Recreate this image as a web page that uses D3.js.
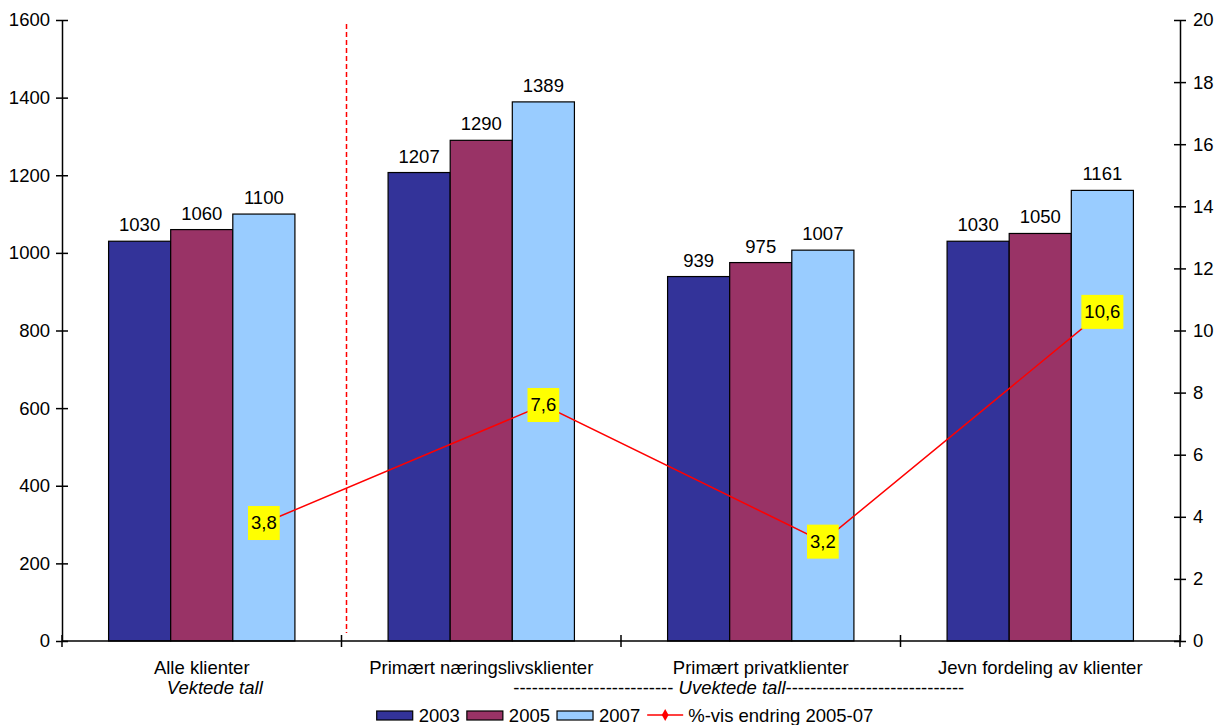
<!DOCTYPE html>
<html>
<head>
<meta charset="utf-8">
<script src="https://cdn.jsdelivr.net/npm/d3@7"></script>
<style>
  html, body { margin: 0; padding: 0; background: #fff; }
  svg { display: block; font-family: "Liberation Sans", Arial, sans-serif; }
</style>
</head>
<body>
<svg id="chart" width="1222" height="725"></svg>
<script>
const categories = ["Alle klienter", "Primært næringslivsklienter", "Primært privatklienter", "Jevn fordeling av klienter"];
const years = ["2003", "2005", "2007"];
const values2003 = [1030, 1207, 939, 1030];
const values2005 = [1060, 1290, 975, 1050];
const values2007 = [1100, 1389, 1007, 1161];
const pctChange = [3.8, 7.6, 3.2, 10.6];
const pctLabels = ["3,8", "7,6", "3,2", "10,6"];
const leftTicks = [0, 200, 400, 600, 800, 1000, 1200, 1400, 1600];
const rightTicks = [0, 2, 4, 6, 8, 10, 12, 14, 16, 18, 20];
const lineSeriesName = "%-vis endring 2005-07";
const weightedLabel = "Vektede tall";
const unweightedLabel = "Uvektede tall";
const colors = { "2003": "#333399", "2005": "#993366", "2007": "#99CCFF" };

const series = { "2003": values2003, "2005": values2005, "2007": values2007 };

const svg = d3.select("#chart");
const pL = 62, pR = 1180, pT = 20, pB = 641;
const FS = 18.5;

const x = d3.scaleBand().domain(categories).range([pL, pR]).paddingInner(0).paddingOuter(0);
const xs = d3.scaleBand().domain(years).range([0, x.bandwidth()]).paddingInner(0).paddingOuter(0.75);
const y = d3.scaleLinear().domain([0, 1600]).range([pB, pT]);
const y2 = d3.scaleLinear().domain([0, 20]).range([pB, pT]);

// Bars
const groups = svg.append("g").selectAll("g").data(categories).join("g")
  .attr("transform", d => `translate(${x(d)},0)`);
years.forEach(yr => {
  groups.append("rect")
    .attr("x", xs(yr))
    .attr("y", (d, i) => y(series[yr][i]))
    .attr("width", xs.bandwidth())
    .attr("height", (d, i) => y(0) - y(series[yr][i]))
    .attr("fill", colors[yr])
    .attr("stroke", "#000")
    .attr("stroke-width", 1.2);
  groups.append("text")
    .attr("x", xs(yr) + xs.bandwidth() / 2)
    .attr("y", (d, i) => y(series[yr][i]) - 10)
    .attr("text-anchor", "middle")
    .attr("font-size", FS)
    .attr("fill", "#000")
    .text((d, i) => series[yr][i]);
});

// Dashed separator
svg.append("line")
  .attr("x1", x(categories[1]) + 5).attr("x2", x(categories[1]) + 5)
  .attr("y1", pT + 4).attr("y2", pB - 8)
  .attr("stroke", "#ff0000").attr("stroke-width", 1.5)
  .attr("stroke-dasharray", "5,3");

// Left axis
const ga = svg.append("g").attr("transform", `translate(${pL},0)`)
  .call(d3.axisLeft(y).tickValues(leftTicks).tickFormat(d3.format("d")).tickSize(6).tickPadding(6).tickSizeOuter(0));
ga.select(".domain").attr("stroke-width", 1.5);
ga.selectAll(".tick line").attr("x1", 6).attr("x2", -6).attr("stroke-width", 1.5);
ga.selectAll(".tick text").attr("font-size", FS).attr("font-family", "Liberation Sans, Arial, sans-serif").attr("fill", "#000");

// Right axis
const gr = svg.append("g").attr("transform", `translate(${pR},0)`)
  .call(d3.axisRight(y2).tickValues(rightTicks).tickFormat(d3.format("d")).tickSize(6).tickPadding(7).tickSizeOuter(0));
gr.select(".domain").attr("stroke-width", 1.5);
gr.selectAll(".tick line").attr("x1", -6).attr("x2", 6).attr("stroke-width", 1.5);
gr.selectAll(".tick text").attr("font-size", FS).attr("font-family", "Liberation Sans, Arial, sans-serif").attr("fill", "#000");

// Bottom axis
svg.append("line").attr("x1", pL).attr("x2", pR).attr("y1", pB).attr("y2", pB)
  .attr("stroke", "#000").attr("stroke-width", 1.5);
const bounds = categories.map(c => x(c)).concat([x.range()[1]]);
svg.append("g").selectAll("line").data(bounds).join("line")
  .attr("x1", d => d).attr("x2", d => d)
  .attr("y1", pB - 6).attr("y2", pB + 6)
  .attr("stroke", "#000").attr("stroke-width", 1.5);
svg.append("g").selectAll("text").data(categories).join("text")
  .attr("x", d => x(d) + x.bandwidth() / 2)
  .attr("y", pB + 33)
  .attr("text-anchor", "middle")
  .attr("font-size", FS)
  .text(d => d);

// Sub labels
svg.append("text")
  .attr("x", x(categories[0]) + x.bandwidth() / 2 + 13)
  .attr("y", pB + 53)
  .attr("text-anchor", "middle")
  .attr("font-size", FS)
  .attr("font-style", "italic")
  .text(weightedLabel);
const ut = svg.append("text")
  .attr("x", x(categories[2]) + x.bandwidth() / 2 - 22)
  .attr("y", pB + 53)
  .attr("text-anchor", "middle")
  .attr("font-size", FS);
ut.append("tspan").text("-".repeat(26) + " ");
ut.append("tspan").attr("font-style", "italic").text(unweightedLabel);
ut.append("tspan").text("-".repeat(29));

// Line series
const px = (i) => x(categories[i]) + xs("2007") + xs.bandwidth() / 2;
svg.append("path")
  .datum(pctChange)
  .attr("d", d3.line().x((d, i) => px(i)).y(d => y2(d)))
  .attr("fill", "none")
  .attr("stroke", "#ff0000")
  .attr("stroke-width", 1.5);
const lbl = svg.append("g").selectAll("g").data(pctChange).join("g")
  .attr("transform", (d, i) => `translate(${px(i)},${y2(d)})`);
lbl.append("rect").attr("fill", "#ffff00");
lbl.append("text")
  .attr("text-anchor", "middle")
  .attr("y", 6)
  .attr("font-size", FS)
  .text((d, i) => pctLabels[i]);
lbl.each(function () {
  const g = d3.select(this);
  const w = g.select("text").node().getComputedTextLength() + 6;
  g.select("rect").attr("x", -w / 2).attr("y", -17).attr("width", w).attr("height", 34);
});

// Legend
const legend = svg.append("g");
let cx = 0;
const ly = 722;
years.forEach(yr => {
  legend.append("rect").attr("x", cx).attr("y", ly - 11).attr("width", 36).attr("height", 9)
    .attr("fill", colors[yr]).attr("stroke", "#000").attr("stroke-width", 1.2);
  cx += 42;
  const t = legend.append("text").attr("x", cx).attr("y", ly).attr("font-size", FS).text(yr);
  cx += t.node().getComputedTextLength() + 7;
});
legend.append("line").attr("x1", cx).attr("x2", cx + 36).attr("y1", ly - 7).attr("y2", ly - 7)
  .attr("stroke", "#ff0000").attr("stroke-width", 1.5);
legend.append("path").attr("d", d3.symbol(d3.symbolDiamond, 40)())
  .attr("transform", `translate(${cx + 18},${ly - 7})`).attr("fill", "#ff0000");
cx += 41;
const lt = legend.append("text").attr("x", cx).attr("y", ly).attr("font-size", FS).text(lineSeriesName);
cx += lt.node().getComputedTextLength();
legend.attr("transform", `translate(${(pL + pR) / 2 + 4 - cx / 2},0)`);
</script>
</body>
</html>
